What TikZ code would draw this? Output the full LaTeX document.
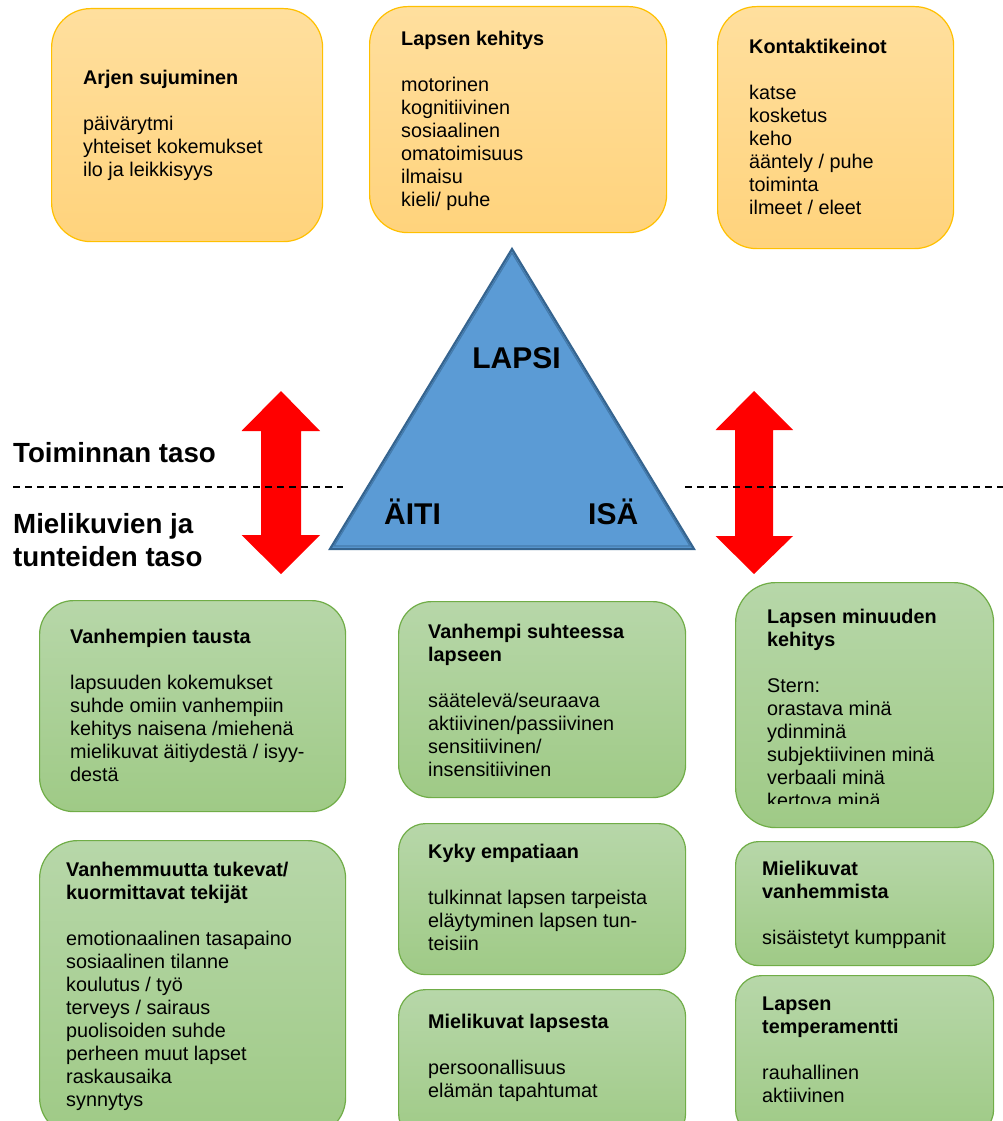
\documentclass[tikz,border=0pt]{standalone}
\usepackage{fontspec}
\setmainfont{Liberation Sans}
\usetikzlibrary{calc}
\definecolor{orT}{HTML}{FFDF9E}
\definecolor{orB}{HTML}{FFD37C}
\definecolor{orD}{HTML}{FFC000}
\definecolor{grT}{HTML}{B7D7A9}
\definecolor{grB}{HTML}{9FCA86}
\definecolor{grD}{HTML}{70AD47}
\definecolor{triF}{HTML}{5B9BD5}
\definecolor{triD}{HTML}{35648F}
\begin{document}
\begin{tikzpicture}[x=1pt,y=-1pt,
  obox/.style={rectangle, rounded corners=#1pt, draw=orD, line width=1.2pt, top color=orT, bottom color=orB, anchor=north west, inner sep=0pt},
  gbox/.style={rectangle, rounded corners=#1pt, draw=grD, line width=1.2pt, top color=grT, bottom color=grB, anchor=north west, inner sep=0pt},
  txt/.style={anchor=base west, inner sep=0pt, font=\fontsize{19.8}{23}\selectfont},
  big/.style={inner sep=0pt, font=\fontsize{27.7}{33}\selectfont\bfseries},
  tri/.style={inner sep=0pt, font=\fontsize{30}{36}\selectfont\bfseries},
  redarrow/.style={fill=red, draw=none},
  dashline/.style={draw=black, line width=1.4pt, dash pattern=on 7pt off 5pt}
]
\useasboundingbox (0,0) rectangle (1003,1121);
\clip (0,0) rectangle (1003,1121);
\fill[white] (0,0) rectangle (1003,1121);

% ---------- orange boxes ----------
\node[obox=39, minimum width=271pt, minimum height=233pt] (b1) at (51,8) {};
\node[obox=38, minimum width=297pt, minimum height=226pt] (b2) at (369,6) {};
\node[obox=39, minimum width=236pt, minimum height=242pt] (b3) at (717,6) {};

\node[txt] (t1) at (83,85) {\begin{tabular}[t]{@{}l@{}}\textbf{Arjen sujuminen}\\ \\päivärytmi\\yhteiset kokemukset\\ilo ja leikkisyys\end{tabular}};
\node[txt] (t2) at (401,45.5) {\begin{tabular}[t]{@{}l@{}}\textbf{Lapsen kehitys}\\ \\motorinen\\kognitiivinen\\sosiaalinen\\omatoimisuus\\ilmaisu\\kieli/ puhe\end{tabular}};
\node[txt] (t3) at (749,53.3) {\begin{tabular}[t]{@{}l@{}}\textbf{Kontaktikeinot}\\ \\katse\\kosketus\\keho\\ääntely / puhe\\toiminta\\ilmeet / eleet\end{tabular}};

% ---------- triangle ----------
\coordinate (apex) at (512,249);
\coordinate (bl) at (330,549);
\coordinate (br) at (694,549);
\path[fill=triF, draw=triD, line width=2.2pt, line join=miter] (apex) -- (br) -- (bl) -- cycle;
\path[draw=triD!60!triF, line width=1.2pt] ($(apex)+(0,4)$) -- ($(br)+(-4,-3)$) -- ($(bl)+(4,-3)$) -- cycle;
\node[tri, anchor=base] (lapsi) at (516.5,368) {LAPSI};
\node[tri, anchor=base west] (aiti) at (384,524) {ÄITI};
\node[tri, anchor=base west] (isa) at (588,524) {ISÄ};

% ---------- red double arrows ----------
\path[redarrow] (281,391) -- (320,431) -- (301,431) -- (301,535) -- (320,535) -- (281,574) -- (241.5,535) -- (261,535) -- (261,431) -- (241.5,431) -- cycle;
\path[redarrow] (754,391) -- (793,430) -- (773,430) -- (773,536) -- (793,536) -- (754,574) -- (715.5,536) -- (735,536) -- (735,430) -- (715.5,430) -- cycle;

% ---------- dashed lines ----------
\coordinate (dl1) at (13,487);
\coordinate (dl2) at (343,487);
\coordinate (dr1) at (685,487);
\coordinate (dr2) at (1003,487);
\draw[dashline] (dl1) -- (dl2);
\draw[dashline] (dr1) -- (dr2);

% ---------- level labels ----------
\node[big, anchor=base west] (lev1) at (13,462) {Toiminnan taso};
\node[big, anchor=base west] (lev2) at (13,533) {\begin{tabular}[t]{@{}l@{}}Mielikuvien ja\\tunteiden taso\end{tabular}};

% ---------- green boxes ----------
\node[gbox=34, minimum width=306pt, minimum height=211pt] (b4) at (39,600) {};
\node[gbox=38, minimum width=306pt, minimum height=295pt] (b5) at (39,840) {};
\node[gbox=33, minimum width=287pt, minimum height=196pt] (b6) at (398,601) {};
\node[gbox=27, minimum width=287pt, minimum height=151pt] (b7) at (398,823) {};
\node[gbox=27, minimum width=287pt, minimum height=151pt] (b8) at (398,989) {};
\node[gbox=40, minimum width=258pt, minimum height=245pt] (b9) at (735,582) {};
\node[gbox=23, minimum width=258pt, minimum height=124pt] (b10) at (735,841) {};
\node[gbox=26, minimum width=258pt, minimum height=160pt] (b11) at (735,975) {};

\node[txt] (t4) at (70,643) {\begin{tabular}[t]{@{}l@{}}\textbf{Vanhempien tausta}\\ \\lapsuuden kokemukset\\suhde omiin vanhempiin\\kehitys naisena /miehenä\\mielikuvat äitiydestä / isyy-\\destä\end{tabular}};
\node[txt] (t5) at (66,876) {\begin{tabular}[t]{@{}l@{}}\textbf{Vanhemmuutta tukevat/}\\\textbf{kuormittavat tekijät}\\ \\emotionaalinen tasapaino\\sosiaalinen tilanne\\koulutus / työ\\terveys / sairaus\\puolisoiden suhde\\perheen muut lapset\\raskausaika\\synnytys\end{tabular}};
\node[txt] (t6) at (428,638) {\begin{tabular}[t]{@{}l@{}}\textbf{Vanhempi suhteessa}\\\textbf{lapseen}\\ \\säätelevä/seuraava\\aktiivinen/passiivinen\\sensitiivinen/\\insensitiivinen\end{tabular}};
\node[txt] (t7) at (428,858) {\begin{tabular}[t]{@{}l@{}}\textbf{Kyky empatiaan}\\ \\tulkinnat lapsen tarpeista\\eläytyminen lapsen tun-\\teisiin\end{tabular}};
\node[txt] (t8) at (428,1028) {\begin{tabular}[t]{@{}l@{}}\textbf{Mielikuvat lapsesta}\\ \\persoonallisuus\\elämän tapahtumat\end{tabular}};
\begin{scope}
\clip (735,582) rectangle (993,803);
\node[txt] (t9) at (767,623) {\begin{tabular}[t]{@{}l@{}}\textbf{Lapsen minuuden}\\\textbf{kehitys}\\ \\Stern:\\orastava minä\\ydinminä\\subjektiivinen minä\\verbaali minä\\kertova minä\end{tabular}};
\end{scope}
\node[txt] (t10) at (762,875) {\begin{tabular}[t]{@{}l@{}}\textbf{Mielikuvat}\\\textbf{vanhemmista}\\ \\sisäistetyt kumppanit\end{tabular}};
\node[txt] (t11) at (762,1010) {\begin{tabular}[t]{@{}l@{}}\textbf{Lapsen}\\\textbf{temperamentti}\\ \\rauhallinen\\aktiivinen\end{tabular}};
\end{tikzpicture}
\end{document}
